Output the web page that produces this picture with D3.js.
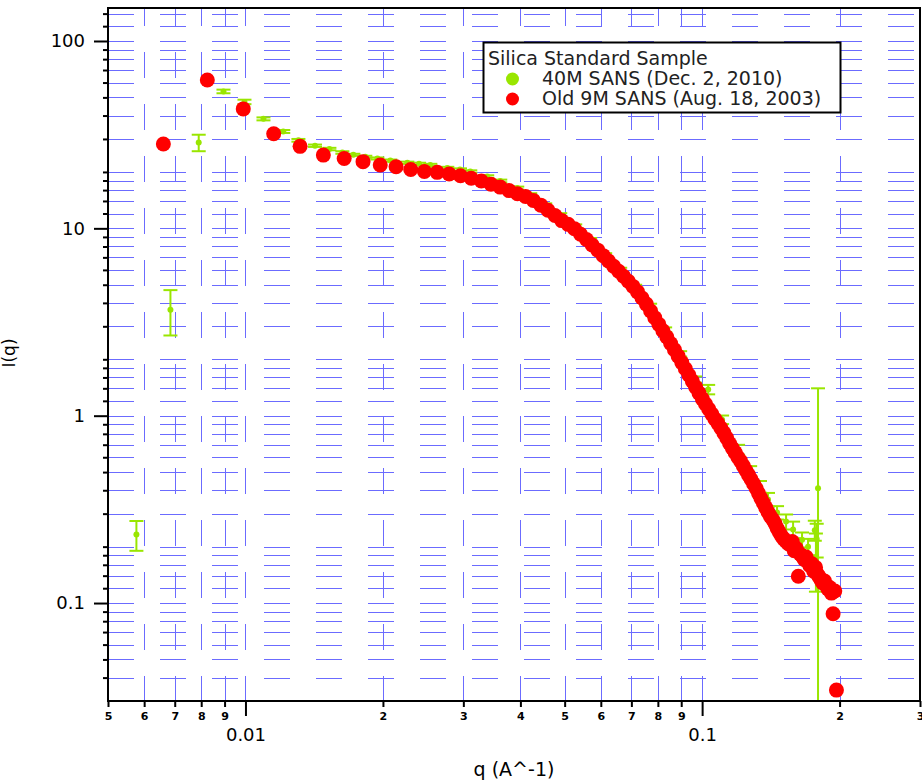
<!DOCTYPE html>
<html>
<head>
<meta charset="utf-8">
<script src="https://cdn.jsdelivr.net/npm/d3@7"></script>
<style>
  body { margin: 0; background: #fff; }
  svg { display: block; }
</style>
</head>
<body>
<div id="chart"></div>
<script>
const fontFamily = "'DejaVu Sans', Verdana, Arial, sans-serif";

//// data: 40M SANS (q, I, error)
const greenQ = [0.00577, 0.00685, 0.0079, 0.00895, 0.00995, 0.01095, 0.0121, 0.01306, 0.0142, 0.01527,
  0.0163, 0.01723, 0.0183, 0.01945, 0.02076, 0.02262, 0.0240, 0.0254, 0.02767, 0.0295,
  0.03107, 0.03384, 0.03614, 0.03937, 0.04204, 0.04534, 0.0489, 0.05274, 0.05686, 0.06134,
  0.06616, 0.07135, 0.07694, 0.08299, 0.08952, 0.09654, 0.1031, 0.1106, 0.1199, 0.1274,
  0.1339, 0.1394, 0.1459, 0.1527, 0.1582, 0.1655, 0.1706, 0.1765, 0.1775, 0.1782, 0.1794];
const greenI = [0.232, 3.68, 28.7, 53.8, 47.3, 38.4, 32.9, 29.5, 27.6, 26.5,
  25.4, 24.7, 24.1, 23.6, 23.0, 22.4, 22.1, 21.8, 21.0, 20.6,
  20.1, 18.9, 17.9, 16.4, 15.1, 13.35, 11.8, 10.3, 8.68, 7.22,
  6.01, 4.88, 3.86, 2.88, 2.14, 1.56, 1.38, 0.952, 0.659, 0.503,
  0.418, 0.357, 0.304, 0.272, 0.247, 0.218, 0.20, 0.245, 0.175, 0.22, 0.41];
const greenErr = [0.042, 1.0, 2.9, 1.2, 1.3, 0.7, 0.6, 0.5, 0.4, 0.4,
  0.4, 0.3, 0.3, 0.3, 0.3, 0.3, 0.3, 0.3, 0.3, 0.3,
  0.3, 0.3, 0.3, 0.3, 0.3, 0.25, 0.25, 0.2, 0.2, 0.15,
  0.15, 0.12, 0.1, 0.08, 0.07, 0.06, 0.08, 0.05, 0.04, 0.035,
  0.03, 0.03, 0.025, 0.025, 0.025, 0.02, 0.02, 0.03, 0.06, 0.045, 0.99];

//// data: Old 9M SANS (q, I)
const redQ = [0.00661, 0.00825, 0.00989, 0.01153, 0.01317, 0.01481, 0.01645, 0.01809, 0.01973, 0.02137,
  0.02301, 0.02465, 0.02629, 0.02793, 0.02957, 0.03121, 0.03285, 0.03449, 0.03613, 0.03777,
  0.03941, 0.04105, 0.04269, 0.04433, 0.04597, 0.04761, 0.04925, 0.05089, 0.05253, 0.05417,
  0.05581, 0.05745, 0.05909, 0.06073, 0.06237, 0.06401, 0.06565, 0.06729, 0.06893, 0.07057,
  0.07221, 0.07385, 0.07549, 0.07713, 0.07877, 0.08041, 0.08205, 0.08369, 0.08533, 0.08697,
  0.08861, 0.09025, 0.09189, 0.09353, 0.09517, 0.09681, 0.09845, 0.10009, 0.10173, 0.10337,
  0.10501, 0.10665, 0.10829, 0.10993, 0.11157, 0.11321, 0.11485, 0.11649, 0.11813, 0.11977,
  0.12141, 0.12305, 0.12469, 0.12633, 0.12797, 0.12961, 0.13125, 0.13289, 0.13453, 0.13617,
  0.13781, 0.13945, 0.14109, 0.14273, 0.14437, 0.14601, 0.14765, 0.14929, 0.15093, 0.15257,
  0.15421, 0.15585, 0.15749, 0.15913, 0.16077, 0.16241, 0.16405, 0.16569, 0.16733, 0.16897,
  0.17061, 0.17225, 0.17389, 0.17553, 0.17717, 0.17881, 0.18045, 0.18209, 0.18373, 0.18537,
  0.18701, 0.18865, 0.19029, 0.19193, 0.19357, 0.19521, 0.19685];
const redI = [28.2, 61.9, 43.4, 32.0, 27.4, 24.6, 23.6, 22.7, 21.8, 21.3,
  20.6, 20.1, 19.9, 19.5, 19.1, 18.5, 17.9, 17.2, 16.6, 15.9,
  15.3, 14.8, 14.1, 13.3, 12.5, 11.7, 11.0, 10.5, 9.95, 9.3,
  8.72, 8.15, 7.65, 7.15, 6.69, 6.28, 5.90, 5.55, 5.22, 4.90,
  4.58, 4.25, 3.94, 3.62, 3.33, 3.07, 2.84, 2.63, 2.43, 2.25,
  2.08, 1.92, 1.78, 1.65, 1.53, 1.42, 1.32, 1.23, 1.155, 1.085,
  1.02, 0.96, 0.91, 0.86, 0.81, 0.76, 0.71, 0.67, 0.635, 0.60,
  0.572, 0.54, 0.51, 0.483, 0.458, 0.433, 0.41, 0.385, 0.362, 0.342,
  0.323, 0.305, 0.29, 0.279, 0.266, 0.25, 0.238, 0.228, 0.22, 0.214,
  0.208, 0.205, 0.213, 0.19, 0.196, 0.139, 0.182, 0.178, 0.171, 0.176,
  0.165, 0.158, 0.162, 0.148, 0.155, 0.143, 0.138, 0.133, 0.128, 0.131,
  0.124, 0.119, 0.121, 0.113, 0.0877, 0.116, 0.0343];

//// ticks
const xMajor = [0.01, 0.1];
const xMajorLabels = ["0.01", "0.1"];
const xMinor = [0.005, 0.006, 0.007, 0.008, 0.009, 0.02, 0.03, 0.04, 0.05, 0.06, 0.07, 0.08, 0.09, 0.2, 0.3];
const xMinorLabels = ["5", "6", "7", "8", "9", "2", "3", "4", "5", "6", "7", "8", "9", "2", "3"];
const yMajor = [0.1, 1, 10, 100];
const yMajorLabels = ["0.1", "1", "10", "100"];
const yMinor = [0.04, 0.05, 0.06, 0.07, 0.08, 0.09,
  0.12, 0.14, 0.16, 0.18, 0.2, 0.3, 0.4, 0.5, 0.6, 0.7, 0.8, 0.9,
  1.2, 1.4, 1.6, 1.8, 2, 3, 4, 5, 6, 7, 8, 9,
  12, 14, 16, 18, 20, 30, 40, 50, 60, 70, 80, 90,
  120, 140];

const legendTitle = "Silica Standard Sample";
const seriesNames = ["40M SANS (Dec. 2, 2010)", "Old 9M SANS (Aug. 18, 2003)"];

const green = "#99e600";
const red = "#ff0000";
const gridColor = "#6b6bff";

const width = 922, height = 781;
const pLeft = 108, pRight = 920, pTop = 8, pBottom = 701;

const greenData = greenQ.map((q, i) => ({q: q, I: greenI[i], err: greenErr[i]}));
const redData = redQ.map((q, i) => ({q: q, I: redI[i]}));

const x = d3.scaleLog().domain([0.005, 0.3]).range([pLeft, pRight]);
const y = d3.scaleLog().domain([0.03, 150]).range([pBottom, pTop]);

const svg = d3.select("#chart").append("svg")
  .attr("width", width)
  .attr("height", height)
  .style("font-family", fontFamily);

svg.append("defs").append("clipPath")
  .attr("id", "plotClip")
  .append("rect")
  .attr("x", pLeft).attr("y", pTop)
  .attr("width", pRight - pLeft).attr("height", pBottom - pTop);

//// dashed grid
const gridY = yMinor.concat(yMajor);
const gridX = xMinor.concat(xMajor).filter(d => d > 0.005 && d < 0.3);

svg.append("g").selectAll("line")
  .data(gridY)
  .join("line")
    .attr("x1", pLeft).attr("x2", pRight)
    .attr("y1", d => Math.round(y(d)) + 0.5)
    .attr("y2", d => Math.round(y(d)) + 0.5)
    .attr("stroke", gridColor)
    .attr("stroke-width", 1)
    .attr("stroke-dasharray", "26,26");

svg.append("g").selectAll("line")
  .data(gridX)
  .join("line")
    .attr("x1", d => Math.round(x(d)) + 0.5)
    .attr("x2", d => Math.round(x(d)) + 0.5)
    .attr("y1", pTop).attr("y2", pBottom)
    .attr("stroke", gridColor)
    .attr("stroke-width", 1)
    .attr("stroke-dasharray", "26,26")
    .attr("stroke-dashoffset", pTop);

//// data marks
const plot = svg.append("g").attr("clip-path", "url(#plotClip)");

const bars = plot.append("g")
  .attr("stroke", green)
  .attr("stroke-width", 2);

greenData.forEach(function(d){
  const cx = x(d.q);
  const yTop = y(d.I + d.err);
  const lowOk = d.I - d.err > 0.03;
  const yBot = lowOk ? y(d.I - d.err) : pBottom + 2;
  bars.append("line").attr("x1", cx).attr("x2", cx).attr("y1", yTop).attr("y2", yBot);
  bars.append("line").attr("x1", cx - 7).attr("x2", cx + 7).attr("y1", yTop).attr("y2", yTop);
  if (lowOk) {
    bars.append("line").attr("x1", cx - 7).attr("x2", cx + 7).attr("y1", yBot).attr("y2", yBot);
  }
});

plot.append("g").selectAll("circle")
  .data(greenData)
  .join("circle")
    .attr("cx", d => x(d.q))
    .attr("cy", d => y(d.I))
    .attr("r", 3)
    .attr("fill", green);

plot.append("g").selectAll("circle")
  .data(redData)
  .join("circle")
    .attr("cx", d => x(d.q))
    .attr("cy", d => y(d.I))
    .attr("r", 7.5)
    .attr("fill", red);

//// axes
const xAxisMinor = d3.axisBottom(x)
  .tickValues(xMinor)
  .tickSize(6)
  .tickPadding(5)
  .tickFormat((d, i) => xMinorLabels[i]);

const xAxisMajor = d3.axisBottom(x)
  .tickValues(xMajor)
  .tickSize(15)
  .tickPadding(12)
  .tickFormat((d, i) => xMajorLabels[i]);

const yAxisMinor = d3.axisLeft(y)
  .tickValues(yMinor)
  .tickSize(5)
  .tickFormat("");

const yAxisMajor = d3.axisLeft(y)
  .tickValues(yMajor)
  .tickSize(14)
  .tickPadding(9)
  .tickFormat((d, i) => yMajorLabels[i]);

const gx1 = svg.append("g").attr("transform", `translate(0,${pBottom})`).call(xAxisMinor);
gx1.selectAll("text").attr("font-size", 11).attr("font-weight", "bold").attr("font-family", fontFamily).attr("fill", "#000");

const gx2 = svg.append("g").attr("transform", `translate(0,${pBottom})`).call(xAxisMajor);
gx2.selectAll("text").attr("font-size", 18).attr("font-family", fontFamily).attr("fill", "#000");

const gy1 = svg.append("g").attr("transform", `translate(${pLeft},0)`).call(yAxisMinor);
const gy2 = svg.append("g").attr("transform", `translate(${pLeft},0)`).call(yAxisMajor);
gy2.selectAll("text").attr("font-size", 18).attr("font-family", fontFamily).attr("fill", "#000");

svg.selectAll(".domain").remove();
svg.selectAll(".tick line").attr("stroke", "#000").attr("stroke-width", 2);

// frame
svg.append("rect")
  .attr("x", pLeft).attr("y", pTop)
  .attr("width", pRight - pLeft).attr("height", pBottom - pTop)
  .attr("fill", "none")
  .attr("stroke", "#000")
  .attr("stroke-width", 2);

//// axis titles
svg.append("text")
  .attr("x", 514).attr("y", 776)
  .attr("text-anchor", "middle")
  .attr("font-size", 19)
  .text("q (A^-1)");

svg.append("text")
  .attr("transform", "translate(15,353) rotate(-90)")
  .attr("text-anchor", "middle")
  .attr("font-size", 17)
  .text("I(q)");

//// legend
const legend = svg.append("g");
legend.append("rect")
  .attr("x", 483.5).attr("y", 42.5)
  .attr("width", 357).attr("height", 70)
  .attr("fill", "#fff")
  .attr("stroke", "#000")
  .attr("stroke-width", 2);

legend.append("text")
  .attr("x", 488).attr("y", 65)
  .attr("font-size", 19)
  .attr("fill", "#222")
  .text(legendTitle);

const legendRows = legend.selectAll(".row")
  .data(seriesNames)
  .join("g")
    .attr("class", "row")
    .attr("transform", (d, i) => `translate(0,${85 + i * 20})`);

legendRows.append("circle")
  .attr("cx", 512.5).attr("cy", -6)
  .attr("r", 6.5)
  .attr("fill", (d, i) => i === 0 ? green : red);

legendRows.append("text")
  .attr("x", 542).attr("y", 0)
  .attr("font-size", 19)
  .attr("fill", "#222")
  .text(d => d);
</script>
</body>
</html>
